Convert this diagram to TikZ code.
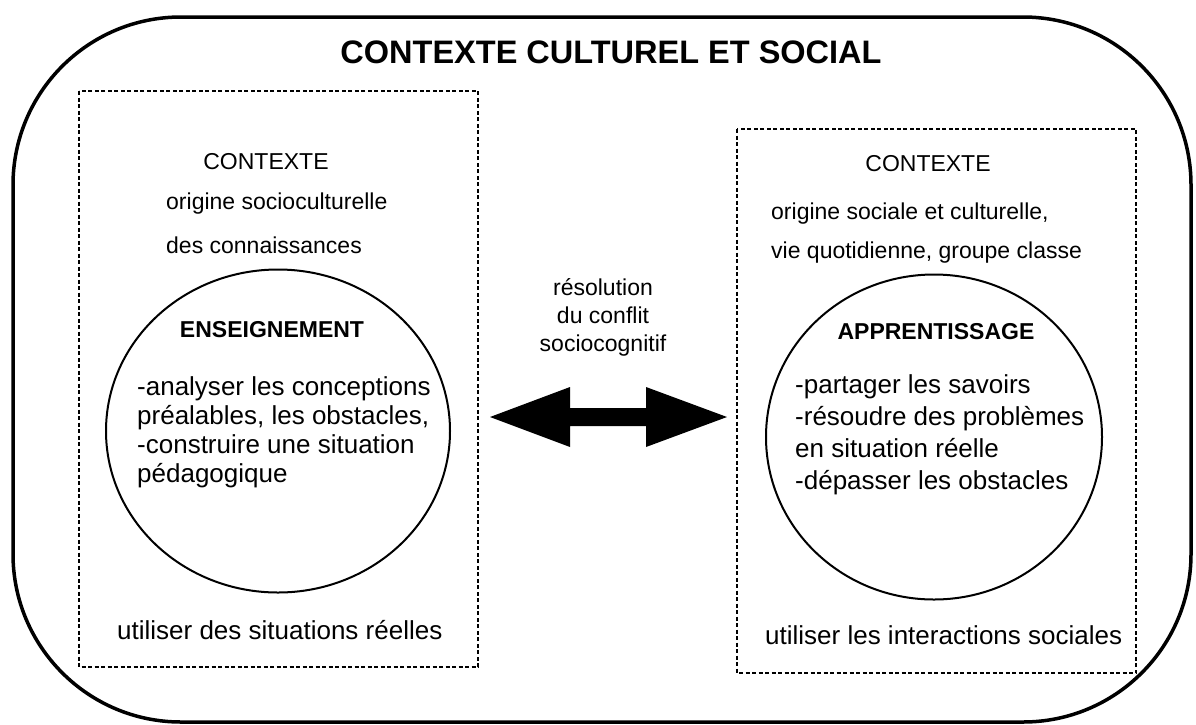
\documentclass[tikz,border=0pt]{standalone}
\usepackage{fontspec}
\setmainfont{Liberation Sans}
\usetikzlibrary{shapes.geometric}
\begin{document}
\begin{tikzpicture}[x=1pt,y=-1pt,
  txt/.style={inner sep=0pt,anchor=base west,font=\fontsize{23}{27}\selectfont},
  ctxt/.style={inner sep=0pt,anchor=base,font=\fontsize{23}{27}\selectfont},
  big/.style={inner sep=0pt,anchor=base west,font=\fontsize{26}{30}\selectfont},
  head/.style={inner sep=0pt,anchor=base,font=\fontsize{23}{27}\selectfont\bfseries},
  dbox/.style={draw,line width=1.6pt,dash pattern=on 4pt off 2.5pt},
  circ/.style={draw,ellipse,line width=2pt,inner sep=0pt}]
\useasboundingbox (0,0) rectangle (1196,724);
% outer frame
\draw[line width=3.5pt,rounded corners=168pt] (13,17) rectangle (1191,722);
\node[inner sep=0pt,anchor=base,font=\fontsize{32.5}{36}\selectfont\bfseries] (title) at (611,63) {CONTEXTE CULTUREL ET SOCIAL};
% dashed boxes
\draw[dbox] (79,91) rectangle (478,667);
\draw[dbox] (737,129) rectangle (1136,673);
% left content
\node[ctxt] (lctx) at (266,169) {CONTEXTE};
\node[txt] (lo1) at (166,209) {origine socioculturelle};
\node[txt] (lo2) at (166,253) {des connaissances};
\node[circ,minimum width=344pt,minimum height=323pt] (lcirc) at (278,431) {};
\node[head] (lhead) at (272,337) {ENSEIGNEMENT};
\node[big] (l1) at (137,395) {-analyser les conceptions};
\node[big] (l2) at (137,424) {préalables, les obstacles,};
\node[big] (l3) at (137,453) {-construire une situation};
\node[big] (l4) at (137,482) {pédagogique};
\node[big] (lfoot) at (117,639) {utiliser des situations réelles};
% right content
\node[ctxt] (rctx) at (928,171) {CONTEXTE};
\node[txt] (ro1) at (771,219) {origine sociale et culturelle,};
\node[txt] (ro2) at (771,258) {vie quotidienne, groupe classe};
\node[circ,minimum width=336pt,minimum height=325pt] (rcirc) at (934,437) {};
\node[head] (rhead) at (936,339) {APPRENTISSAGE};
\node[big] (r1) at (795,393) {-partager les savoirs};
\node[big] (r2) at (795,425) {-résoudre des problèmes};
\node[big] (r3) at (795,457) {en situation réelle};
\node[big] (r4) at (795,489) {-dépasser les obstacles};
\node[big] (rfoot) at (765,644) {utiliser les interactions sociales};
% middle
\node[ctxt] (m1) at (603,295) {résolution};
\node[ctxt] (m2) at (603,323) {du conflit};
\node[ctxt] (m3) at (603,351) {sociocognitif};
\coordinate (ac) at (608.5,417);
\fill ([xshift=-118.5pt]ac) -- ([xshift=-38.5pt,yshift=-30pt]ac) -- ([xshift=-38.5pt,yshift=-9pt]ac)
  -- ([xshift=37.5pt,yshift=-9pt]ac) -- ([xshift=37.5pt,yshift=-30pt]ac) -- ([xshift=118.5pt]ac)
  -- ([xshift=37.5pt,yshift=30pt]ac) -- ([xshift=37.5pt,yshift=9pt]ac) -- ([xshift=-38.5pt,yshift=9pt]ac)
  -- ([xshift=-38.5pt,yshift=30pt]ac) -- cycle;
\end{tikzpicture}
\end{document}
